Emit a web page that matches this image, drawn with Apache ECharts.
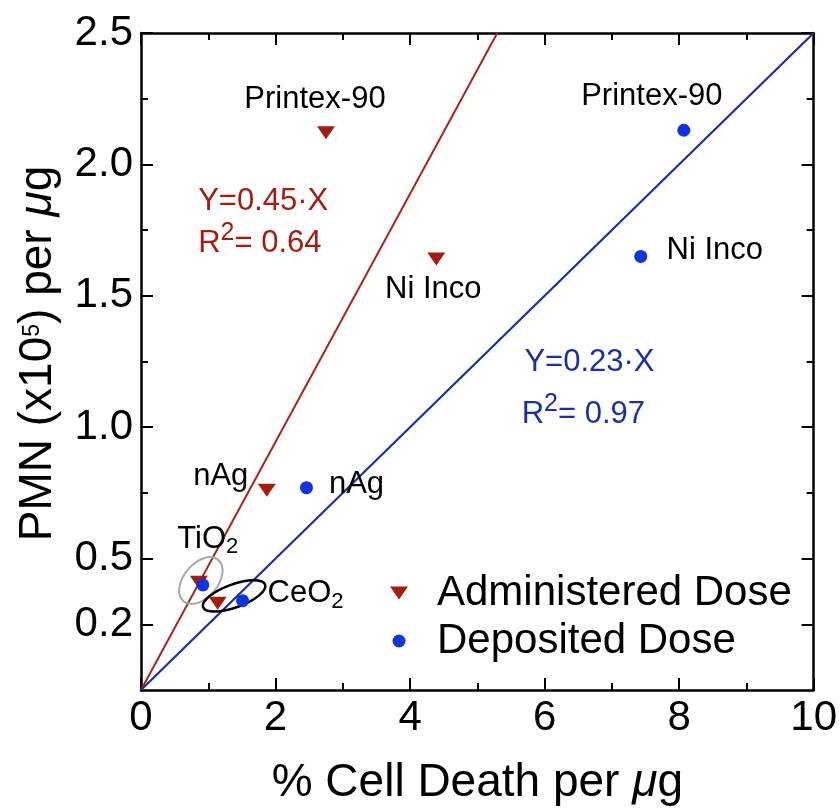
<!DOCTYPE html>
<html>
<head>
<meta charset="utf-8">
<title>PMN vs Cell Death</title>
<script src="https://cdn.jsdelivr.net/npm/echarts@6/dist/echarts.min.js"></script>
<style>
  html, body { margin: 0; padding: 0; background: #fff; }
  #chart { width: 840px; height: 811px; }
</style>
</head>
<body>
<div id="chart"></div>
<script>
// ---- data ----
const materials = ['Printex-90', 'Ni Inco', 'nAg', 'TiO2', 'CeO2'];
// % cell death per µg, administered dose
const administeredX = [2.75, 4.39, 1.87, 0.86, 1.14];
const administeredPMN = [2.12, 1.64, 0.76, 0.41, 0.33];
// % cell death per µg, deposited dose
const depositedX = [8.07, 7.43, 2.46, 0.92, 1.51];
const depositedPMN = [2.13, 1.65, 0.77, 0.40, 0.34];
// regression lines through the origin
const administeredSlope = 0.472;
const depositedSlope = 0.25;
const administeredEquation = ['Y=0.45·X', '0.64'];
const depositedEquation = ['Y=0.23·X', '0.97'];
// axes
const xMax = 10;
const yMax = 2.5;
const yTickValues = [0.25, 0.5, 1.0, 1.5, 2.0, 2.5];
const yTickLabels = ['0.2', '0.5', '1.0', '1.5', '2.0', '2.5'];
const seriesNames = ['Administered Dose', 'Deposited Dose'];

// ---- styling ----
const FONT = "'Liberation Sans', Arial, Helvetica, sans-serif";
const RED = '#a51d10';
const RED_LINE = '#a3281a';
const BLUE = '#1033e0';
const BLUE_LINE = '#1b2f9f';
const BLUE_TEXT = '#1c2f9e';
const LABEL_SIZE = 31;
const TICK_SIZE = 42;
const TITLE_SIZE = 46;

// label offsets (px from marker centre to label centre)
const administeredLabelOffsets = { 0: [-11, -33], 1: [-3, 30], 2: [-46, -14], 3: [9, -43] };
const depositedLabelOffsets = { 0: [-32, -34], 1: [74, -6], 2: [50, -3], 4: [63, -7] };

const labelRich = {
  n: { fontSize: LABEL_SIZE, fontFamily: FONT, color: '#000' },
  sub: { fontSize: 22, fontFamily: FONT, color: '#000', padding: [16, 0, 0, 0] }
};

function richName(name) {
  if (/O2$/.test(name)) return '{n|' + name.slice(0, -1) + '}{sub|2}';
  return '{n|' + name + '}';
}

function pointLabel(offset) {
  if (!offset) return { show: false };
  return {
    show: true,
    position: 'inside',
    offset: offset,
    color: '#000',
    textBorderWidth: 0,
    formatter: p => richName(p.name),
    rich: labelRich
  };
}

function buildPoints(xs, ys, offsets) {
  return xs.map((x, i) => ({
    name: materials[i],
    value: [x, ys[i]],
    label: pointLabel(offsets[i])
  }));
}

function fitLine(slope) {
  const xEnd = Math.min(xMax, yMax / slope);
  return [[0, 0], [xEnd, slope * xEnd]];
}

const axisLineStyle = { color: '#000', width: 2.5 };
const majorTick = { show: true, inside: true, length: 12, lineStyle: { color: '#000', width: 2 } };
const minorTick = { show: true, splitNumber: 2, length: 7, lineStyle: { color: '#000', width: 2 } };

function xAxisCfg(position, withLabels) {
  const cfg = {
    type: 'value', min: 0, max: xMax, interval: 2, position: position,
    axisLine: { show: true, onZero: false, lineStyle: axisLineStyle },
    axisTick: majorTick,
    minorTick: minorTick,
    splitLine: { show: false },
    axisLabel: { show: withLabels, fontSize: TICK_SIZE, margin: 7, color: '#000', fontFamily: FONT }
  };
  if (withLabels) {
    cfg.name = '{t|% Cell Death per }{it|μ}{t|g}';
    cfg.nameLocation = 'middle';
    cfg.nameGap = 70;
    cfg.nameTextStyle = {
      rich: {
        t: { fontSize: TITLE_SIZE, fontFamily: FONT, color: '#000' },
        it: { fontSize: TITLE_SIZE, fontFamily: FONT, fontStyle: 'italic', color: '#000' }
      }
    };
  }
  return cfg;
}

function yAxisCfg(position, withLabels) {
  const cfg = {
    type: 'value', min: 0, max: yMax, interval: 0.5, position: position,
    axisLine: { show: true, onZero: false, lineStyle: axisLineStyle },
    axisTick: Object.assign({}, majorTick, { customValues: yTickValues }),
    minorTick: minorTick,
    splitLine: { show: false },
    axisLabel: {
      show: withLabels, customValues: yTickValues,
      fontSize: TICK_SIZE, margin: 8, color: '#000', fontFamily: FONT,
      formatter: v => {
        const k = yTickValues.findIndex(t => Math.abs(t - v) < 1e-9);
        return k >= 0 ? yTickLabels[k] : '';
      }
    }
  };
  if (withLabels) {
    cfg.name = '{t|PMN (x10}{sup|5}{t|) per }{it|μ}{t|g}';
    cfg.nameLocation = 'middle';
    cfg.nameRotate = 90;
    cfg.nameGap = 80;
    cfg.nameTextStyle = {
      padding: [0, 0, 0, 16],
      rich: {
        t: { fontSize: TITLE_SIZE, fontFamily: FONT, color: '#000' },
        it: { fontSize: TITLE_SIZE, fontFamily: FONT, fontStyle: 'italic', color: '#000' },
        sup: { fontSize: 23, fontFamily: FONT, color: '#000', padding: [0, 0, 10, 0] }
      }
    };
  }
  return cfg;
}

const chart = echarts.init(document.getElementById('chart'), null, { renderer: 'canvas' });

chart.setOption({
  animation: false,
  backgroundColor: '#fff',
  grid: { left: 141, right: 24, top: 33, bottom: 118 },
  xAxis: [xAxisCfg('bottom', true), xAxisCfg('top', false)],
  yAxis: [yAxisCfg('left', true), yAxisCfg('right', false)],
  legend: {
    data: [
      { name: seriesNames[0], icon: 'path://M0,0L18,0L9,13Z' },
      { name: seriesNames[1], icon: 'circle' }
    ],
    orient: 'vertical',
    left: 385,
    top: 567,
    itemWidth: 18,
    itemHeight: 13,
    itemGap: 6,
    selectedMode: false,
    textStyle: { fontSize: 42, fontFamily: FONT, color: '#000', padding: [0, 0, 9, 24] }
  },
  series: [
    {
      name: 'Administered fit', type: 'line', data: fitLine(administeredSlope),
      symbol: 'none', silent: true, z: 2,
      lineStyle: { color: RED_LINE, width: 2 }
    },
    {
      name: 'Deposited fit', type: 'line', data: fitLine(depositedSlope),
      symbol: 'none', silent: true, z: 2,
      lineStyle: { color: BLUE_LINE, width: 2.2 }
    },
    {
      name: seriesNames[0], type: 'scatter', symbol: 'triangle', symbolRotate: 180,
      symbolSize: [18, 13], itemStyle: { color: RED, opacity: 1 }, z: 4,
      data: buildPoints(administeredX, administeredPMN, administeredLabelOffsets)
    },
    {
      name: seriesNames[1], type: 'scatter', symbol: 'circle',
      symbolSize: 13, itemStyle: { color: BLUE, opacity: 1 }, z: 5,
      data: buildPoints(depositedX, depositedPMN, depositedLabelOffsets)
    }
  ]
});

// ---- fit equations and grouping ellipses ----
function toPx(pt) {
  return chart.convertToPixel({ xAxisIndex: 0, yAxisIndex: 0 }, pt);
}

function equationBlock(anchorTop, anchorBottom, eq, color) {
  const p1 = toPx(anchorTop);
  const p2 = toPx(anchorBottom);
  const base = { fontSize: LABEL_SIZE, fontFamily: FONT, fill: color };
  return [
    {
      type: 'text', x: p1[0], y: p1[1], z: 10,
      style: Object.assign({ text: eq[0], textAlign: 'left', textVerticalAlign: 'middle' }, base)
    },
    {
      type: 'text', x: p2[0], y: p2[1], z: 10,
      style: {
        text: '{r|R}{s|2}{r|= ' + eq[1] + '}',
        textAlign: 'left', textVerticalAlign: 'middle',
        rich: {
          r: { fontSize: LABEL_SIZE, fontFamily: FONT, fill: color, color: color },
          s: { fontSize: 25, fontFamily: FONT, fill: color, color: color, padding: [0, 0, 20, 0] }
        }
      }
    }
  ];
}

function ellipseAround(i, dx, dy, rx, ry, deg, stroke, width) {
  const a = toPx([administeredX[i], administeredPMN[i]]);
  const b = toPx([depositedX[i], depositedPMN[i]]);
  return {
    type: 'ellipse',
    x: (a[0] + b[0]) / 2 + dx,
    y: (a[1] + b[1]) / 2 + dy,
    rotation: deg * Math.PI / 180,
    shape: { cx: 0, cy: 0, rx: rx, ry: ry },
    style: { fill: 'none', stroke: stroke, lineWidth: width },
    z: 3,
    silent: true
  };
}

const tiIndex = materials.indexOf('TiO2');
const ceIndex = materials.indexOf('CeO2');

chart.setOption({
  graphic: [].concat(
    equationBlock([0.85, 1.86], [0.85, 1.70], administeredEquation, RED),
    equationBlock([5.70, 1.245], [5.66, 1.05], depositedEquation, BLUE_TEXT),
    [
      ellipseAround(tiIndex, 0, -3, 27, 17, 50, '#a8a8a8', 2),
      ellipseAround(ceIndex, 4, -6, 33, 11.5, 20, '#000', 2.5)
    ]
  )
});
</script>
</body>
</html>
